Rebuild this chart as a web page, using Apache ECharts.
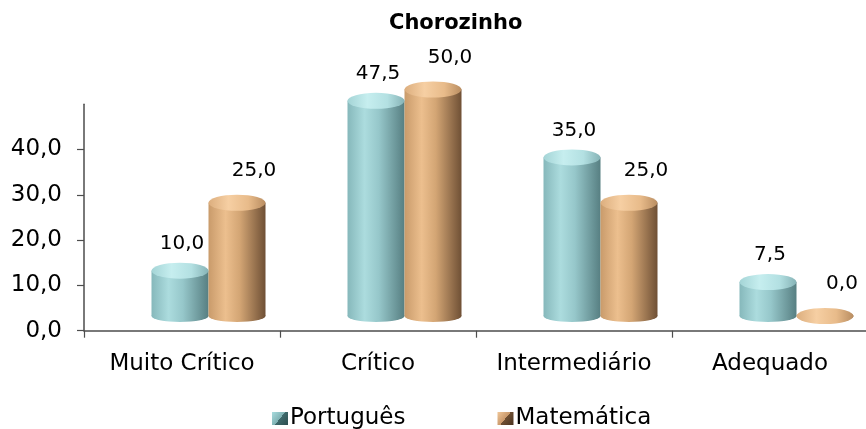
<!DOCTYPE html>
<html>
<head>
<meta charset="utf-8">
<script src="https://cdn.jsdelivr.net/npm/echarts@6/dist/echarts.min.js"></script>
<style>
  html, body { margin: 0; padding: 0; background: #ffffff; overflow: hidden; }
  /* the floor of the plot runs slightly past the right edge of the page */
  #chart { width: 900px; height: 429px; }
</style>
</head>
<body>
<div id="chart"></div>
<script>
// Proficiency levels for Chorozinho (% of students)
const categories = ['Muito Crítico', 'Crítico', 'Intermediário', 'Adequado'];
const portugues = [10.0, 47.5, 35.0, 7.5];
const matematica = [25.0, 50.0, 25.0, 0.0];
const seriesNames = ['Português', 'Matemática'];
const yTickValues = [0, 10, 20, 30, 40];

const FONT = 'DejaVu Sans';
const fmt = v => Number(v).toFixed(1).replace('.', ',');

function hGrad(stops) {
  return new echarts.graphic.LinearGradient(0, 0, 1, 0,
    stops.map(s => ({ offset: s[0], color: s[1] })));
}

// Cylinder shading (body, cap) per subject
const palette = {
  'Português': {
    body: hGrad([[0, '#86b8bb'], [0.3, '#acdcde'], [0.55, '#96c7ca'], [1, '#577f82']]),
    cap: hGrad([[0, '#a4d4d6'], [0.35, '#c6eeef'], [0.7, '#b3e0e2'], [1, '#86b3b6']]),
    legend: new echarts.graphic.LinearGradient(0, 0, 1, 1, [
      { offset: 0, color: '#a9dcde' }, { offset: 0.5, color: '#7fb1b3' },
      { offset: 0.5, color: '#3f6a6c' }, { offset: 1, color: '#2c4d4f' }])
  },
  'Matemática': {
    body: hGrad([[0, '#c99b6b'], [0.3, '#ecbf8e'], [0.55, '#d3a574'], [1, '#6f5035']]),
    cap: hGrad([[0, '#dcae7e'], [0.35, '#f6cfa3'], [0.7, '#e8bb8a'], [1, '#b98d61']]),
    legend: new echarts.graphic.LinearGradient(0, 0, 1, 1, [
      { offset: 0, color: '#f1c89a' }, { offset: 0.5, color: '#c8976a' },
      { offset: 0.5, color: '#6e4f33' }, { offset: 1, color: '#4a3320' }])
  }
};

const BAR_W = 57;
const CAP_H = 16;
const valuesBySeries = { 'Português': portugues, 'Matemática': matematica };
const labelShift = { 'Português': [2, -17], 'Matemática': [17, -22] };

const series = [];
seriesNames.forEach((name, i) => {
  const vals = valuesBySeries[name];
  const dx = (i === 0 ? -1 : 1) * BAR_W / 2;
  const p = palette[name];
  // rounded base of the cylinder, sitting on the floor
  series.push({
    name, type: 'scatter', xAxisIndex: 1, yAxisIndex: 1,
    symbol: 'circle', symbolSize: [BAR_W, CAP_H - 4], symbolOffset: [dx, 0],
    z: 2, silent: true,
    itemStyle: { color: p.body, opacity: 1 },
    data: categories.map(c => [c, 0])
  });
  // cylinder body
  series.push({
    name, type: 'bar', xAxisIndex: 1, yAxisIndex: 1,
    barWidth: BAR_W, barGap: '0%', z: 3,
    itemStyle: { color: p.body },
    label: {
      show: true, position: 'top', distance: 0,
      offset: labelShift[name],
      fontFamily: FONT, fontSize: 20, color: '#000000',
      formatter: d => fmt(d.value)
    },
    data: vals
  });
  // top cap
  series.push({
    name, type: 'scatter', xAxisIndex: 1, yAxisIndex: 1,
    symbol: 'circle', symbolSize: [BAR_W, CAP_H], symbolOffset: [dx, 0],
    z: 4, silent: true,
    itemStyle: { color: p.cap, opacity: 1 },
    data: categories.map((c, k) => [c, vals[k]])
  });
});

const chart = echarts.init(document.getElementById('chart'), null, { renderer: 'canvas' });
chart.setOption({
  backgroundColor: '#ffffff',
  animation: false,
  title: {
    text: 'Chorozinho', left: 389, top: 13, padding: 0,
    textStyle: { fontFamily: FONT, fontSize: 21, fontWeight: 'bold', color: '#000000' }
  },
  legend: {
    data: seriesNames.map(n => ({ name: n, icon: 'rect', itemStyle: { color: palette[n].legend } })),
    left: 272, top: 407, padding: 0,
    itemWidth: 16, itemHeight: 13, itemGap: 92,
    textStyle: { fontFamily: FONT, fontSize: 23, color: '#000000', padding: [0, 0, 0, -3] }
  },
  grid: [
    { left: 84, top: 104.2, width: 784, height: 226.5, containLabel: false },
    { left: 110.5, top: 89.5, width: 784, height: 226.5, containLabel: false }
  ],
  xAxis: [
    {
      type: 'category', gridIndex: 0, data: categories,
      axisLine: { lineStyle: { color: '#4d4d4d', width: 1.5 } },
      axisTick: { show: true, length: 7, lineStyle: { color: '#4d4d4d', width: 1.2 } },
      axisLabel: { interval: 0, fontFamily: FONT, fontSize: 23, color: '#000000', margin: 22 }
    },
    { type: 'category', gridIndex: 1, data: categories, show: false }
  ],
  yAxis: [
    {
      type: 'value', gridIndex: 0, min: 0, max: 50, interval: 10,
      axisLine: { show: true, lineStyle: { color: '#4d4d4d', width: 1.5 } },
      axisTick: { show: true, length: 7, customValues: yTickValues, lineStyle: { color: '#4d4d4d', width: 1.2 } },
      splitLine: { show: false },
      axisLabel: {
        fontFamily: FONT, fontSize: 23, color: '#000000', margin: 22,
        customValues: yTickValues,
        formatter: v => fmt(v)
      }
    },
    { type: 'value', gridIndex: 1, min: 0, max: 50, show: false }
  ],
  series
});
</script>
</body>
</html>
